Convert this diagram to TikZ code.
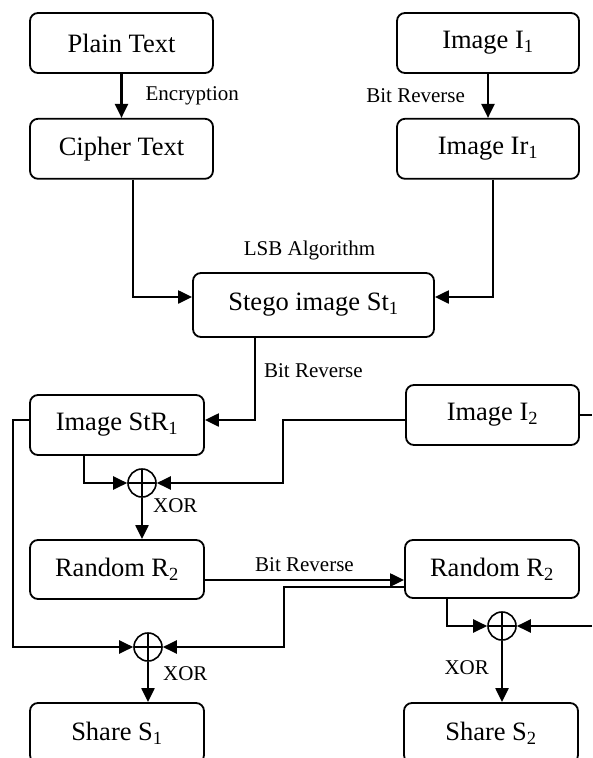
\documentclass[tikz,border=0pt]{standalone}
\usepackage{fontspec}
\setmainfont{Liberation Serif}
\usetikzlibrary{arrows.meta,calc,positioning}

\begin{document}
\begin{tikzpicture}[x=1pt,y=-1pt,>={Triangle[length=14pt,width=13pt]},
    block/.style={draw,rounded corners=8pt,line width=1.8pt,inner sep=0pt,
      font=\fontsize{26.5}{30}\selectfont},
    xorsym/.style={circle,draw,line width=1.6pt,minimum size=28pt,inner sep=0pt,
      path picture={\draw[line width=1.4pt] (path picture bounding box.north) -- (path picture bounding box.south)
        (path picture bounding box.west) -- (path picture bounding box.east);}},
    lbl/.style={inner sep=0pt,font=\fontsize{21}{24}\selectfont},
    link/.style={->,line width=2.2pt}]
    \useasboundingbox (0,0) rectangle (592,758);
    \clip (0,0) rectangle (592,758);
    % upper part
    \node[block,minimum width=183pt,minimum height=60pt] (plain) at (121.5,43) {Plain Text};
    \node[block,minimum width=183pt,minimum height=60pt,below=44pt of plain] (cipher) {Cipher Text};
    \node[block,minimum width=182pt,minimum height=60pt] (imgone) at (488,43) {Image I\textsubscript{1}};
    \node[block,minimum width=182pt,minimum height=60pt,below=44pt of imgone] (imgrone) {Image Ir\textsubscript{1}};
    \node[block,minimum width=241pt,minimum height=64pt] (stego) at (313.5,305) {Stego image St\textsubscript{1}};
    \node[lbl,above=12pt of stego,xshift=-4pt] (lsb) {LSB Algorithm};
    % middle part
    \node[block,minimum width=174pt,minimum height=60pt] (strone) at (117,425) {Image StR\textsubscript{1}};
    \node[block,minimum width=173pt,minimum height=60pt] (imgtwo) at (492.5,415) {Image I\textsubscript{2}};
    \node[xorsym] (xorA) at (142,483) {};
    \node[block,minimum width=174pt,minimum height=59pt] (randL) at (117,569.5) {Random R\textsubscript{2}};
    \node[block,minimum width=174pt,minimum height=58pt] (randR) at (492,569) {Random R\textsubscript{2}};
    % lower part
    \node[xorsym] (xorB) at (148,647) {};
    \node[xorsym] (xorC) at (502,626) {};
    \node[block,minimum width=174pt,minimum height=60pt] (shareL) at (117,733) {Share S\textsubscript{1}};
    \node[block,minimum width=174pt,minimum height=60pt] (shareR) at (491,733) {Share S\textsubscript{2}};
    \coordinate (outI) at (592,415);
    \coordinate (inC) at (592,626);

    \draw[link] (plain) -- (cipher) node[lbl,midway,right=23pt] {Encryption};
    \draw[link] (imgone) -- (imgrone) node[lbl,midway,left=22pt] {Bit Reverse};
    \draw[link] ([xshift=11.5pt]cipher.south) |- ([yshift=8pt]stego.west);
    \draw[link] ([xshift=5pt]imgrone.south) |- ([yshift=8pt]stego.east);
    \draw[link] ([xshift=-58.5pt]stego.south) |- ([yshift=5pt]strone.east)
        node[lbl,pos=0.2,right=8pt] {Bit Reverse};
    \draw[link] ([yshift=-5pt]imgtwo.west) -| (283,483) -- (xorA.east);
    \draw[link] ([xshift=-33pt]strone.south) |- (xorA.west);
    \draw[link] (xorA) -- (xorA |- randL.north) node[lbl,pos=0.2,right=10pt] {XOR};
    \draw[line width=2.2pt] (imgtwo.east) -- (outI);
    \draw[link] ([yshift=5pt]strone.west) -- ++(-16,0) |- (xorB.west);
    \draw[link] ([yshift=-10.5pt]randL.east) -- ([yshift=-10.5pt]randL.east -| randR.west)
        node[lbl,midway,above=7pt] {Bit Reverse};
    \draw[link] ([yshift=-18pt]randR.west) -| (284,647) -- (xorB.east);
    \draw[link] (xorB) -- (xorB |- shareL.north) node[lbl,pos=0.3,right=14pt] {XOR};
    \draw[link] ([xshift=-45pt]randR.south) |- (xorC.west);
    \draw[link] (inC) -- (xorC.east);
    \draw[link] (xorC) -- (xorC |- shareR.north) node[lbl,pos=0.43,left=12pt] {XOR};
\end{tikzpicture}
\end{document}
